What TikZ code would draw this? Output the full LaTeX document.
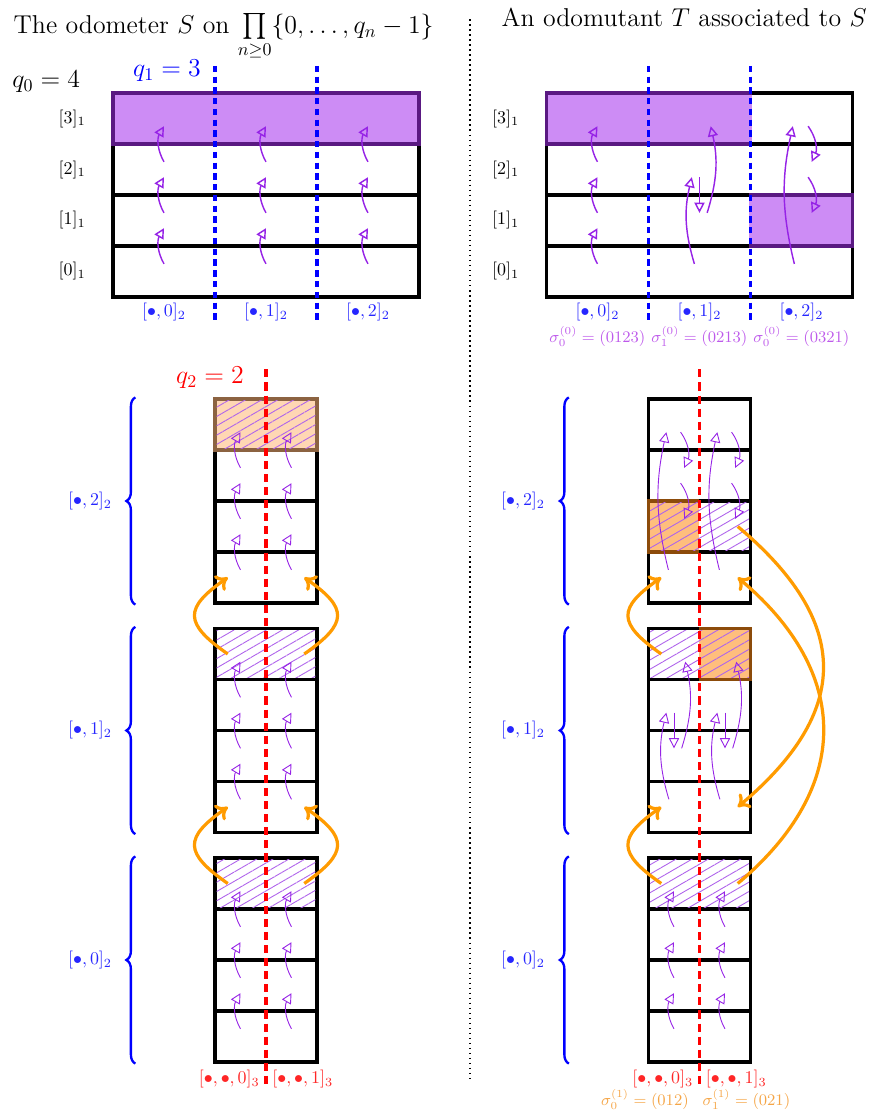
\documentclass[tikz,border=0pt]{standalone}
\usepackage{amsmath,amssymb}
\usetikzlibrary{positioning,arrows.meta,patterns.meta,decorations.pathreplacing}

\definecolor{pfill}{RGB}{164,46,237}
\definecolor{parrow}{RGB}{150,35,230}
\definecolor{hatch}{RGB}{175,100,235}
\definecolor{peach}{RGB}{255,182,119}
\definecolor{ofill}{RGB}{255,137,19}
\definecolor{oarrow}{RGB}{255,155,0}
\definecolor{sigp}{RGB}{190,90,235}
\definecolor{sigo}{RGB}{245,165,70}

\begin{document}
\begin{tikzpicture}[
  font=\normalsize,
  rowbox/.style={draw, line width=1.8pt, minimum width=6cm, minimum height=1cm, inner sep=0pt},
  colbox/.style={rowbox, minimum width=2cm},
  topfill/.style={fill=pfill, fill opacity=0.55},
  lastrow/.style={pattern={Lines[angle=30,distance=4.5pt,line width=0.5pt]}, pattern color=hatch, fill opacity=0.4},
  parr/.style={-{Triangle[open,length=2mm,width=2mm]}, draw=parrow, line width=0.8pt},
  tarr/.style={parr, line width=0.5pt},
  oarr/.style={-{To[length=2.2mm,width=3.6mm]}, draw=oarrow, line width=1.8pt},
  bdash/.style={draw=blue, line width=1.7pt, dash pattern=on 3.5pt off 2.5pt},
  rdash/.style={draw=red, line width=1.7pt, dash pattern=on 4.5pt off 2.8pt},
  brc/.style={draw=blue, line width=1.3pt, decorate, decoration={brace, amplitude=5pt}},
  ttl/.style={font=\Large, inner sep=0pt}]

\useasboundingbox (-2.216,-16.118) rectangle (14.902,5.824);

% titles and separator
\node[ttl, anchor=base] (title-odo) at (2.17,5.17) {The odometer $S$ on $\prod\limits_{n\geq 0}\{0,\dots,q_n-1\}$};
\node[ttl, anchor=base] (title-mut) at (11.2,5.3) {An odomutant $T$ associated to $S$};
\draw[dotted, line width=0.8pt] (7,5.45) -- (7,-15.4);

\node[ttl] (q0) at (-1.31,4.22) {$q_0=4$};
\node[ttl, text=blue] (q1) at (1.06,4.43) {$q_1=3$};
\node[ttl, text=red] (q2) at (1.9,-1.59) {$q_2=2$};

% ---- top left: the odometer, level 0
\foreach \r in {0,...,3}{
  \node[rowbox] (odo-\r) at (3,\r+0.5) {};
  \node (odo-lab-\r) at (-0.8,\r+0.5) {$[\r]_1$};
  \foreach \c in {0,1,2}
    \coordinate (odo-\c-\r) at (2*\c+1,\r+0.5);
}
\fill[topfill] (odo-3.south west) rectangle (odo-3.north east);
\foreach \c in {0,1,2}{
  \foreach \r [evaluate=\r as \n using int(\r+1)] in {0,1,2}
    \draw[parr] ([yshift=1.5mm]odo-\c-\r) to[bend left=30] ([yshift=-1.5mm]odo-\c-\n);
  \node[text=blue!85] (odo-col-\c) at (2*\c+1,-0.3) {$[\bullet,\c]_2$};
}
\foreach \x in {-1,1}
  \draw[bdash] ([xshift=\x cm, yshift=5mm]odo-3.north) -- ([xshift=\x cm, yshift=-4.5mm]odo-0.south);

% ---- top right: the odomutant, level 0
\foreach \r in {0,...,3}{
  \node[rowbox] (mut-\r) at (11.5,\r+0.5) {};
  \node (mut-lab-\r) at (7.7,\r+0.5) {$[\r]_1$};
  \foreach \c in {0,1,2}
    \coordinate (mut-\c-\r) at (9.5+2*\c,\r+0.5);
}
\fill[topfill] (mut-3.south west) rectangle ([xshift=-2cm]mut-3.north east);
\fill[topfill] ([xshift=4cm]mut-1.south west) rectangle (mut-1.north east);
% (0123)
\foreach \r [evaluate=\r as \n using int(\r+1)] in {0,1,2}
  \draw[parr] ([yshift=1.5mm]mut-0-\r) to[bend left=30] ([yshift=-1.5mm]mut-0-\n);
% (0213)
\draw[parr] ([shift={(-1mm,1.5mm)}]mut-1-0) to[bend left=15] ([shift={(-1.5mm,-1.5mm)}]mut-1-2);
\draw[parr] ([yshift=-1.5mm]mut-1-2) -- ([yshift=1.5mm]mut-1-1);
\draw[parr] ([shift={(1.5mm,1.5mm)}]mut-1-1) to[bend right=15] ([shift={(2.2mm,-1.5mm)}]mut-1-3);
% (0321)
\draw[parr] ([shift={(-1.4mm,1.5mm)}]mut-2-0) to[bend left=13] ([shift={(-1.7mm,-1.5mm)}]mut-2-3);
\draw[parr] ([shift={(1.3mm,-1.5mm)}]mut-2-3) to[bend left=30] ([shift={(2mm,1.5mm)}]mut-2-2);
\draw[parr] ([shift={(1.3mm,-1.5mm)}]mut-2-2) to[bend left=30] ([shift={(2mm,1.5mm)}]mut-2-1);
\foreach \x in {-1,1}
  \draw[bdash] ([xshift=\x cm, yshift=5mm]mut-3.north) -- ([xshift=\x cm, yshift=-4.5mm]mut-0.south);
\foreach \c in {0,1,2}
  \node[text=blue!85] (mut-col-\c) at (9.5+2*\c,-0.3) {$[\bullet,\c]_2$};
\node[font=\small, text=sigp] (mut-sig-0) at (9.5,-0.77) {$\sigma_0^{(0)}=(0123)$};
\node[font=\small, text=sigp] (mut-sig-1) at (11.5,-0.77) {$\sigma_1^{(0)}=(0213)$};
\node[font=\small, text=sigp] (mut-sig-2) at (13.5,-0.77) {$\sigma_0^{(0)}=(0321)$};

% ---- bottom left: the odometer, level 1
\foreach \k in {0,1,2}
  \foreach \r in {0,...,3}{
    \node[colbox] (lo-\k-\r) at (3,-14.5+4.5*\k+\r) {};
    \foreach \s in {0,1}
      \coordinate (lo-\k-\s-\r) at (2.5+\s,-14.5+4.5*\k+\r);
  }
\fill[peach, fill opacity=0.55] (lo-2-3.south west) rectangle (lo-2-3.north east);
\foreach \k in {0,1,2}{
  \fill[lastrow] ([shift={(1.8pt,1.8pt)}]lo-\k-3.south west) rectangle ([shift={(-1.8pt,-1.8pt)}]lo-\k-3.north east);
  \foreach \s in {0,1}{
    \foreach \r [evaluate=\r as \n using int(\r+1)] in {0,1,2}{
      \draw[tarr] ([yshift=1.5mm]lo-\k-\s-\r) to[bend left=30] ([yshift=-1.5mm]lo-\k-\s-\n);
    }
  }
  \draw[brc] ([xshift=-15.3mm]lo-\k-0.south west) -- ([xshift=-15.3mm]lo-\k-3.north west);
  \node[text=blue!85] (lo-brace-\k) at (-0.45,-13+4.5*\k) {$[\bullet,\k]_2$};
}
\draw[rdash] ([yshift=5.5mm]lo-2-3.north) -- ([yshift=-4mm]lo-0-0.south);
\foreach \k [evaluate=\k as \n using int(\k+1)] in {0,1}{
  \draw[oarr] ([xshift=-7.5mm]lo-\k-3.center) to[out=145,in=215,looseness=1.8] ([xshift=-7.5mm]lo-\n-0.center);
  \draw[oarr] ([xshift=7.5mm]lo-\k-3.center) to[out=35,in=-35,looseness=1.8] ([xshift=7.5mm]lo-\n-0.center);
}
\node[text=red!85, anchor=north east] (lo-end-0) at (lo-0-0.south) {$[\bullet,\bullet,0]_3$};
\node[text=red!85, anchor=north west] (lo-end-1) at (lo-0-0.south) {$[\bullet,\bullet,1]_3$};

% ---- bottom right: the odomutant, level 1
\foreach \k in {0,1,2}
  \foreach \r in {0,...,3}{
    \node[colbox] (lm-\k-\r) at (11.5,-14.5+4.5*\k+\r) {};
    \foreach \s in {0,1}
      \coordinate (lm-\k-\s-\r) at (11+\s,-14.5+4.5*\k+\r);
  }
\fill[ofill, fill opacity=0.55] (lm-2-1.south west) rectangle (lm-2-1.north);
\fill[ofill, fill opacity=0.55] (lm-1-3.south) rectangle (lm-1-3.north east);
\fill[lastrow] ([shift={(1.8pt,1.8pt)}]lm-0-3.south west) rectangle ([shift={(-1.8pt,-1.8pt)}]lm-0-3.north east);
\fill[lastrow] ([shift={(1.8pt,1.8pt)}]lm-1-3.south west) rectangle ([shift={(-1.8pt,-1.8pt)}]lm-1-3.north east);
\fill[lastrow] ([shift={(1.8pt,1.8pt)}]lm-2-1.south west) rectangle ([shift={(-1.8pt,-1.8pt)}]lm-2-1.north east);
\foreach \s in {0,1}{
  % (0123)
  \foreach \r [evaluate=\r as \n using int(\r+1)] in {0,1,2}
    \draw[tarr] ([yshift=1.5mm]lm-0-\s-\r) to[bend left=30] ([yshift=-1.5mm]lm-0-\s-\n);
  % (0213)
  \draw[tarr] ([shift={(-1mm,1.5mm)}]lm-1-\s-0) to[bend left=15] ([shift={(-1.5mm,-1.5mm)}]lm-1-\s-2);
  \draw[tarr] ([yshift=-1.5mm]lm-1-\s-2) -- ([yshift=1.5mm]lm-1-\s-1);
  \draw[tarr] ([shift={(1.5mm,1.5mm)}]lm-1-\s-1) to[bend right=15] ([shift={(2.2mm,-1.5mm)}]lm-1-\s-3);
  % (0321)
  \draw[tarr] ([shift={(-1.1mm,1.5mm)}]lm-2-\s-0) to[bend left=13] ([shift={(-1.5mm,-1.5mm)}]lm-2-\s-3);
  \draw[tarr] ([shift={(1.3mm,-1.5mm)}]lm-2-\s-3) to[bend left=30] ([shift={(2mm,1.5mm)}]lm-2-\s-2);
  \draw[tarr] ([shift={(1.3mm,-1.5mm)}]lm-2-\s-2) to[bend left=30] ([shift={(2mm,1.5mm)}]lm-2-\s-1);
}
\foreach \k in {0,1,2}{
  \draw[brc] ([xshift=-15.3mm]lm-\k-0.south west) -- ([xshift=-15.3mm]lm-\k-3.north west);
  \node[text=blue!85] (lm-brace-\k) at (8.04,-13+4.5*\k) {$[\bullet,\k]_2$};
}
\draw[rdash] ([yshift=5.5mm]lm-2-3.north) -- ([yshift=-4mm]lm-0-0.south);
% sigma_0^(1) = (012)
\foreach \k [evaluate=\k as \n using int(\k+1)] in {0,1}
  \draw[oarr] ([xshift=-7.5mm]lm-\k-3.center) to[out=145,in=215,looseness=1.8] ([xshift=-7.5mm]lm-\n-0.center);
% sigma_1^(1) = (021)
\draw[oarr] ([xshift=7.5mm]lm-0-3.center) to[out=40,in=-40,looseness=1.25] ([xshift=7.5mm]lm-2-0.center);
\draw[oarr] ([xshift=7.5mm]lm-2-1.center) to[out=-40,in=40,looseness=1.36] ([xshift=7.5mm]lm-1-0.center);
\node[text=red!85, anchor=north east] (lm-end-0) at (lm-0-0.south) {$[\bullet,\bullet,0]_3$};
\node[text=red!85, anchor=north west] (lm-end-1) at (lm-0-0.south) {$[\bullet,\bullet,1]_3$};
\node[font=\small, text=sigo] (lm-sig-0) at (10.43,-15.74) {$\sigma_0^{(1)}=(012)$};
\node[font=\small, text=sigo] (lm-sig-1) at (12.42,-15.74) {$\sigma_1^{(1)}=(021)$};
\end{tikzpicture}
\end{document}
